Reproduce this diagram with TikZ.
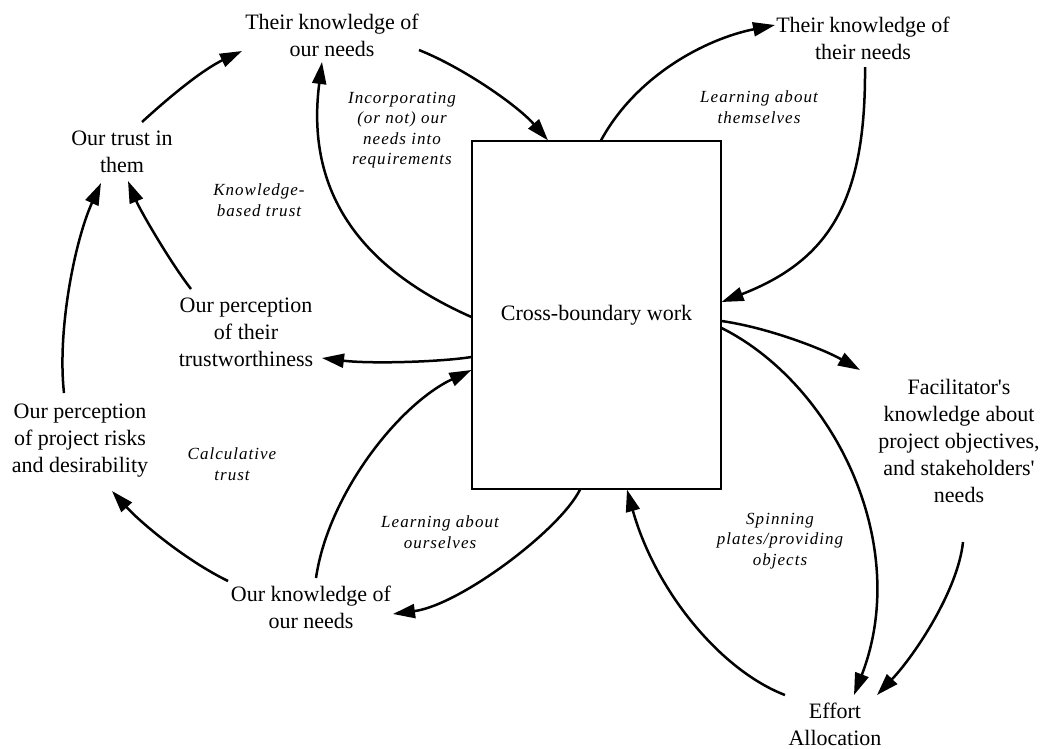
\documentclass[tikz,border=0pt]{standalone}
\usepackage{fontspec}
\setmainfont{Liberation Serif}
\newfontfamily\lblfont[LetterSpace=6]{Liberation Serif}
\usetikzlibrary{arrows.meta,calc}

\begin{document}
\begin{tikzpicture}[x=1pt,y=-1pt,
  var/.style={align=center,font=\fontsize{22}{27}\selectfont,inner sep=0pt},
  looplabel/.style={align=center,font=\lblfont\itshape\fontsize{17}{20.5}\selectfont,inner sep=0pt},
  link/.style={line width=2.5pt,-{Triangle[length=22pt,width=14pt]}},
]
\useasboundingbox (0,0) rectangle (1057,748);

% central activity
\node[draw,line width=1.2pt,minimum width=249pt,minimum height=348pt,inner sep=0pt,
      font=\fontsize{22}{27}\selectfont] (work) at (596.5,315) {Cross-boundary work};

% variables
\node[var] (tkon)  at (332,35)  {Their knowledge of\\our needs};
\node[var] (tktn)  at (863,38)  {Their knowledge of\\their needs};
\node[var] (trust) at (122,152) {Our trust in\\them};
\node[var] (ptw)   at (246,332) {Our perception\\of their\\trustworthiness};
\node[var] (risk)  at (80,441)  {Our perception\\of project risks\\and desirability};
\node[var] (okn)   at (311,607) {Our knowledge of\\our needs};
\node[var] (fac)   at (959,441) {Facilitator\textquotesingle s\\knowledge about\\project objectives,\\and stakeholders\textquotesingle\\needs};
\node[var] (eff)   at (835,724) {Effort\\Allocation};

% loop labels
\node[looplabel] (l1) at (402,130) {Incorporating\\(or not) our\\needs into\\requirements};
\node[looplabel] (l2) at (259,200) {Knowledge-\\based trust};
\node[looplabel] (l3) at (759,107) {Learning about\\themselves};
\node[looplabel] (l4) at (232,464) {Calculative\\trust};
\node[looplabel] (l5) at (440,532) {Learning about\\ourselves};
\node[looplabel] (l6) at (780,541) {Spinning\\plates/providing\\objects};

% causal links
\draw[link] ([shift={(20,-30)}]trust.center) .. controls (177,90) and (206,68) .. ([shift={(-90,16)}]tkon.center);
\draw[link] ([shift={(87,15)}]tkon.center) .. controls (464,68) and (518,106) .. ([shift={(-48.5,0)}]work.north);
\draw[link] ([shift={(0,2)}]work.west) .. controls (372,273) and (304,202) .. ([shift={(-10,27)}]tkon.center);
\draw[link] ([shift={(4.5,0)}]work.north) .. controls (636,76) and (705,39) .. ([shift={(-88,-13)}]tktn.center);
\draw[link] ([shift={(2,29)}]tktn.center) .. controls (866,200) and (830,260) .. ([shift={(0,-13)}]work.east);
\draw[link] ([shift={(0,42)}]work.west) .. controls (440,362) and (370,364) .. ([shift={(76,26)}]ptw.center);
\draw[link] ([shift={(-55,-43)}]ptw.center) .. controls (170,262) and (140,210) .. ([shift={(6,29)}]trust.center);
\draw[link] ([shift={(-16,-48)}]risk.center) .. controls (57,330) and (75,240) .. ([shift={(-21,31)}]trust.center);
\draw[link] ([shift={(-83,-26)}]okn.center) .. controls (185,560) and (140,522) .. ([shift={(32,50)}]risk.center);
\draw[link] ([shift={(5,-29)}]okn.center) .. controls (328,495) and (398,405) .. ([shift={(0,55)}]work.west);
\draw[link] ([shift={(-16.5,0)}]work.south) .. controls (560,530) and (460,605) .. ([shift={(82,7)}]okn.center);
\draw[link] ([shift={(-50,-29)}]eff.center) .. controls (720,670) and (655,590) .. ([shift={(30.5,0)}]work.south);
\draw[link] ([shift={(0,13)}]work.east) .. controls (835,385) and (912,545) .. ([shift={(19,-29)}]eff.center);
\draw[link] ([shift={(0,6)}]work.east) .. controls (770,328) and (825,350) .. ([shift={(-99,-71)}]fac.center);
\draw[link] ([shift={(4,101)}]fac.center) .. controls (958,590) and (915,655) .. ([shift={(42,-29)}]eff.center);
\end{tikzpicture}
\end{document}
